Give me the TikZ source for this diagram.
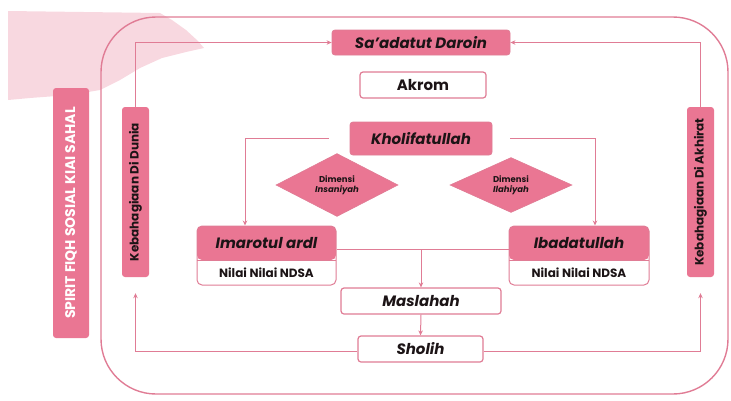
\documentclass[tikz,border=0pt]{standalone}
\usepackage{fontspec}
\setmainfont{Poppins}
\usetikzlibrary{shapes.geometric,arrows.meta,calc}
\definecolor{pk}{HTML}{EA7693}
\definecolor{pkline}{HTML}{E07C95}
\definecolor{pkbrush}{HTML}{F8D8E0}
\definecolor{ink}{HTML}{1C1416}
\tikzset{
  fillbox/.style={draw=pkline, line width=0.8pt, fill=pk, rounded corners=3pt, inner sep=0pt, text=ink, font=\bfseries\itshape\fontsize{15}{17}\selectfont},
  whitebox/.style={draw=pkline, line width=1.2pt, fill=white, rounded corners=3pt, inner sep=0pt, text=ink, font=\bfseries\itshape\fontsize{15}{17}\selectfont},
  sidebox/.style={draw=none, fill=pk, rounded corners=3pt, inner sep=0pt, text=ink},
  dimbox/.style={diamond, draw=pkline, line width=0.6pt, fill=pk, inner sep=0pt, align=center, text=ink, font=\bfseries\fontsize{8.5}{10}\selectfont},
  card/.style={draw=pkline, line width=1pt, fill=white, rounded corners=5pt, inner sep=0pt},
  conn/.style={draw=pkline, line width=1pt},
  arr/.style={conn, -{Stealth[length=5pt,width=4.5pt]}},
  lbl/.style={inner sep=0pt, text=ink}
}
\begin{document}
\begin{tikzpicture}[x=1pt,y=-1pt]
\useasboundingbox (0,0) rectangle (731,400);
% brush stroke
\fill[pkbrush] (8,11) -- (160,13) -- (172,20) -- (186,30) -- (198,41) -- (204,48) -- (186,52) -- (162,58) -- (140,68) -- (120,80) -- (100,90) -- (70,95) -- (30,98) -- (8,100) -- cycle;
% outer frame
\draw[pkline, line width=1.4pt, rounded corners=55pt] (101,17) rectangle (728,394);
% side labels
\node[sidebox, minimum width=36pt, minimum height=250pt] (spirit) at (71,213) {};
\node[lbl, rotate=90, text=white, font=\bfseries\fontsize{14}{16}\selectfont] at (spirit.center) {SPIRIT FIQH SOSIAL KIAI SAHAL};
\node[sidebox, minimum width=27pt, minimum height=170pt] (kdun) at (135.5,192) {};
\node[lbl, rotate=90, font=\bfseries\fontsize{12}{14}\selectfont] at (kdun.center) {Kebahagiaan Di Dunia};
\node[sidebox, minimum width=27pt, minimum height=170pt] (kakh) at (700.5,192) {};
\node[lbl, rotate=90, font=\bfseries\fontsize{12}{14}\selectfont] at (kakh.center) {Kebahagiaan Di Akhirat};
% main boxes
\node[fillbox, minimum width=178pt, minimum height=25pt] (sad) at (421,42.5) {Sa'adatut Daroin};
\node[whitebox, minimum width=126pt, minimum height=26pt, font=\bfseries\fontsize{15}{17}\selectfont] (akrom) at (423,85) {Akrom};
\node[fillbox, minimum width=142pt, minimum height=33pt] (khol) at (421,138.5) {Kholifatullah};
\node[dimbox, minimum width=122pt, minimum height=46pt] (dl) at (337,185) {Dimensi\\\textit{Insaniyah}};
\node[dimbox, minimum width=122pt, minimum height=46pt] (dr) at (511,185) {Dimensi\\\textit{Ilahiyah}};
% cards
\node[card, minimum width=139pt, minimum height=59pt,
  path picture={\fill[pk] (path picture bounding box.north west) rectangle ($(path picture bounding box.north east)+(0,34)$);
  \draw[pkline, line width=0.8pt] ($(path picture bounding box.north west)+(0,34)$) -- ($(path picture bounding box.north east)+(0,34)$);}] (imar) at (266.5,255.5) {};
\node[lbl, font=\bfseries\itshape\fontsize{15}{17}\selectfont] at (266.5,243) {Imarotul ardl};
\node[lbl, font=\bfseries\fontsize{12}{14}\selectfont] at (266.5,272.5) {Nilai Nilai NDSA};
\node[card, minimum width=140pt, minimum height=59pt,
  path picture={\fill[pk] (path picture bounding box.north west) rectangle ($(path picture bounding box.north east)+(0,34)$);
  \draw[pkline, line width=0.8pt] ($(path picture bounding box.north west)+(0,34)$) -- ($(path picture bounding box.north east)+(0,34)$);}] (ibad) at (579,255.5) {};
\node[lbl, font=\bfseries\itshape\fontsize{15}{17}\selectfont] at (579,243) {Ibadatullah};
\node[lbl, font=\bfseries\fontsize{12}{14}\selectfont] at (579,272.5) {Nilai Nilai NDSA};
\node[whitebox, minimum width=160pt, minimum height=26pt] (masl) at (421,301) {Maslahah};
\node[whitebox, minimum width=125pt, minimum height=26pt] (sholih) at (420.5,349) {Sholih};
% connectors
\draw[arr] (kdun.north) |- (sad.west);
\draw[arr] (kakh.north) |- (sad.east);
\draw[arr] ([xshift=-21pt]khol.west) -| ([xshift=-21.5pt]imar.north);
\draw[arr] ([xshift=18pt]khol.east) -| ([xshift=16pt]ibad.north);
\coordinate (mid) at (421,249);
\draw[conn] ([yshift=6.5pt]imar.east) -- ([yshift=6.5pt]ibad.west);
\draw[arr] (mid) -- (masl.north);
\draw[arr] (masl.south) -- (sholih.north);
\draw[arr] ([yshift=-2pt]sholih.west) -| ([yshift=-16pt]kdun.south);
\draw[arr] ([yshift=-2pt]sholih.east) -| ([yshift=-16pt]kakh.south);
\end{tikzpicture}
\end{document}
